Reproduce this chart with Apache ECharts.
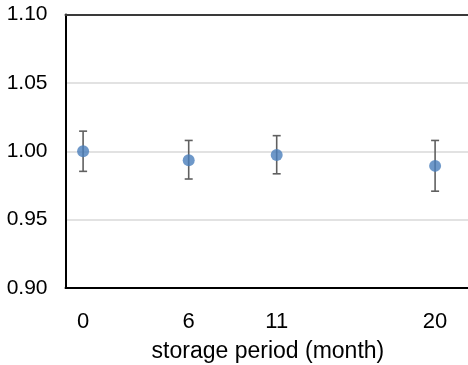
<!DOCTYPE html>
<html>
<head>
<meta charset="utf-8">
<script src="https://cdn.jsdelivr.net/npm/echarts@6/dist/echarts.min.js"></script>
<style>html,body{margin:0;padding:0;background:#fff}#c{width:468px;height:365px}</style>
</head>
<body>
<div id="c"></div>
<script>
const months = [0, 6, 11, 20];
const means = [1.000, 0.9935, 0.9972, 0.9893];
const errLow = [0.9853, 0.9797, 0.9835, 0.9708];
const errHigh = [1.0147, 1.0079, 1.0114, 1.0079];
const xTickLabels = [0, 6, 11, 20];
const xName = 'storage period (month)';

const chart = echarts.init(document.getElementById('c'));
const font = 'Liberation Sans, Arial, sans-serif';
chart.setOption({
  animation: false,
  grid: {left: 65.5, top: 14.5, width: 404.8, height: 273.5, show: false, containLabel: false, outerBoundsMode: 'none'},
  xAxis: [{
    type: 'value', min: -1, max: 22, position: 'bottom',
    name: xName, nameLocation: 'middle', nameGap: 52,
    nameTextStyle: {fontFamily: font, fontSize: 23, color: '#000'},
    axisLine: {show: true, onZero: false, lineStyle: {color: '#000', width: 2}},
    axisTick: {show: false},
    splitLine: {show: false},
    axisLabel: {customValues: xTickLabels, fontFamily: font, fontSize: 22, color: '#000', margin: 23}
  }, {
    type: 'value', min: -1, max: 22, position: 'top',
    axisLine: {show: true, onZero: false, lineStyle: {color: '#3a3a3a', width: 2}},
    axisTick: {show: false}, axisLabel: {show: false}, splitLine: {show: false}
  }],
  yAxis: {
    type: 'value', min: 0.90, max: 1.10, interval: 0.05,
    axisLine: {show: true, onZero: false, lineStyle: {color: '#000', width: 2}},
    axisTick: {show: false},
    splitLine: {showMinLine: false, showMaxLine: false, lineStyle: {color: '#d9d9d9', width: 1.5}},
    axisLabel: {fontFamily: font, fontSize: 21, color: '#000', margin: 18, formatter: v => v.toFixed(2)}
  },
  series: [
    {
      type: 'custom',
      data: months.map((m, i) => [m, errLow[i], errHigh[i]]),
      renderItem: function (params, api) {
        const lo = api.coord([api.value(0), api.value(1)]);
        const hi = api.coord([api.value(0), api.value(2)]);
        const w = 4;
        const style = {stroke: '#606060', lineWidth: 1.6};
        return {type: 'group', children: [
          {type: 'line', shape: {x1: lo[0], y1: lo[1], x2: hi[0], y2: hi[1]}, style: style},
          {type: 'line', shape: {x1: lo[0] - w, y1: lo[1], x2: lo[0] + w, y2: lo[1]}, style: style},
          {type: 'line', shape: {x1: hi[0] - w, y1: hi[1], x2: hi[0] + w, y2: hi[1]}, style: style}
        ]};
      },
      z: 2
    },
    {
      type: 'scatter',
      data: months.map((m, i) => [m, means[i]]),
      symbolSize: 12,
      itemStyle: {color: '#4A7EBB'},
      z: 3
    }
  ]
});
</script>
</body>
</html>
